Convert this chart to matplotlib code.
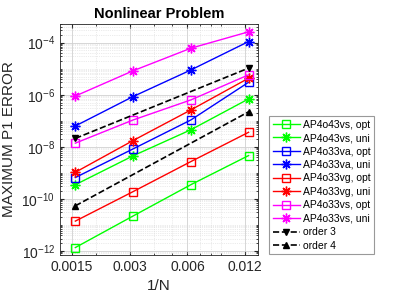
import matplotlib
matplotlib.use("Agg")
import matplotlib.pyplot as plt
from matplotlib.ticker import LogLocator, LogFormatterMathtext, NullFormatter, FixedLocator

plt.rcParams['font.family'] = ['Liberation Sans', 'DejaVu Sans']
plt.rcParams['mathtext.default'] = 'regular'

# mesh sizes 1/N
h = [1 / 640, 1 / 320, 1 / 160, 1 / 80]
h_ends = [1 / 640, 1 / 80]

green_opt = [1.35e-12, 2.2e-11, 3.5e-10, 4.6e-9]
green_uni = [3.5e-10, 4.5e-9, 4.5e-8, 6.9e-7]
blue_opt = [6.6e-10, 8.3e-9, 1.07e-7, 3.0e-6]
blue_uni = [6.3e-8, 8.5e-7, 8.9e-6, 1.1e-4]
red_opt = [1.4e-11, 1.9e-10, 2.7e-9, 3.6e-8]
red_uni = [1.05e-9, 1.74e-8, 2.6e-7, 4.3e-6]
mag_opt = [1.38e-8, 1.07e-7, 6.3e-7, 5.8e-6]
mag_uni = [8.9e-7, 8.3e-6, 6.1e-5, 2.6e-4]
order3 = [2.1e-8, 1.05e-5]
order4 = [5.4e-11, 2.2e-7]

xticks = [0.0015, 0.003, 0.006, 0.012]
xticklabels = ['0.0015', '0.003', '0.006', '0.012']
yticks = [1e-12, 1e-10, 1e-8, 1e-6, 1e-4]

fig = plt.figure(figsize=(3.98, 2.99), dpi=100)
ax = fig.add_axes([0.1508, 0.1472, 0.4975, 0.7726])

ast = (8, 2, 0)
series = [
    (green_opt, '#00ff00', 's', 'AP4o43vs, opt'),
    (green_uni, '#00ff00', ast, 'AP4o43vs, uni'),
    (blue_opt, '#0000ff', 's', 'AP4o33va, opt'),
    (blue_uni, '#0000ff', ast, 'AP4o33va, uni'),
    (red_opt, '#ff0000', 's', 'AP4o33vg, opt'),
    (red_uni, '#ff0000', ast, 'AP4o33vg, uni'),
    (mag_opt, '#ff00ff', 's', 'AP4o33vs, opt'),
    (mag_uni, '#ff00ff', ast, 'AP4o33vs, uni'),
]
for vals, col, mk, lab in series:
    if mk == 's':
        ax.plot(h, vals, color=col, marker='s', markersize=6, mfc='none',
                mec=col, mew=1.0, lw=1.0, label=lab)
    else:
        ax.plot(h, vals, color=col, marker=mk, markersize=7, mec=col,
                mew=1.0, lw=1.0, label=lab)

ax.plot(h_ends, order3, 'k--', marker='v', markersize=5, lw=1.2, label='order 3')
ax.plot(h_ends, order4, 'k--', marker='^', markersize=5, lw=1.2, label='order 4')

ax.set_xscale('log')
ax.set_yscale('log')
ax.set_xlim(0.0013, 0.014)
ax.set_ylim(7e-13, 5.2e-4)

ax.xaxis.set_major_locator(FixedLocator(xticks))
ax.set_xticklabels(xticklabels)
ax.xaxis.set_minor_formatter(NullFormatter())
ax.set_yticks(yticks)
ax.yaxis.set_major_formatter(LogFormatterMathtext())
ax.yaxis.set_minor_locator(LogLocator(base=10, subs=[1, 2, 3, 4, 5, 6, 7, 8, 9], numticks=100))
ax.yaxis.set_minor_formatter(NullFormatter())

ax.grid(True, which='major', color='#d0d0d0', lw=0.6)
ax.grid(True, which='minor', color='#d8d8d8', lw=0.5, ls=':')
ax.set_axisbelow(True)

ax.tick_params(which='both', direction='in', top=True, right=True,
               colors='#262626', labelsize=10)
ax.tick_params(which='major', length=3)
ax.tick_params(which='minor', length=1.5)
for sp in ax.spines.values():
    sp.set_color('#262626')
    sp.set_linewidth(0.6)

ax.set_title('Nonlinear Problem', fontsize=10.5, fontweight='bold', pad=4)
ax.set_xlabel('1/N', fontsize=11, color='#262626')
ax.set_ylabel('MAXIMUM P1 ERROR', fontsize=11, color='#262626')

leg = fig.legend(loc='upper left', bbox_to_anchor=(0.676, 0.612), fontsize=7.5,
                 frameon=True, fancybox=False, edgecolor='#808080',
                 handlelength=2.6, handletextpad=0.3, labelspacing=0.33,
                 borderpad=0.35, borderaxespad=0)
leg.get_frame().set_linewidth(0.8)

fig.savefig('out.png', dpi=100)
